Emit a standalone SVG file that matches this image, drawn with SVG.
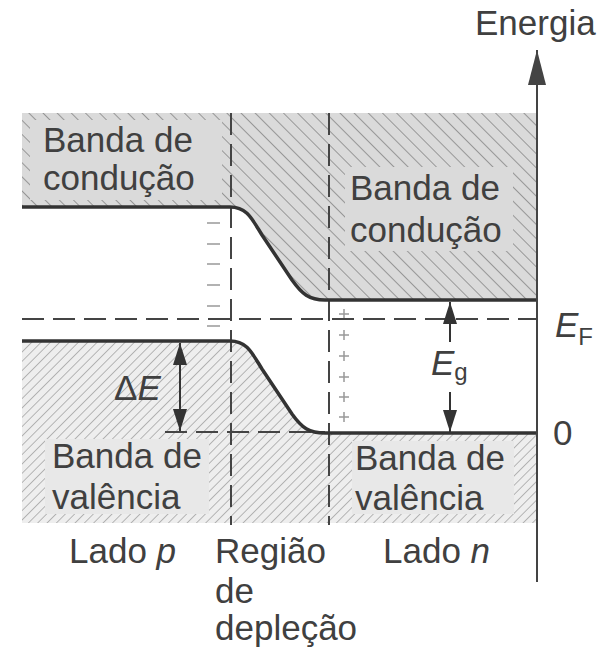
<svg xmlns="http://www.w3.org/2000/svg" width="609" height="656" viewBox="0 0 609 656">
<defs>
<style>
.t{font-family:"Liberation Sans",Arial,sans-serif;font-size:35px;fill:#404040}
.sub{font-size:24px}
.it{font-style:italic}
.band{fill:none;stroke:#333;stroke-width:3.5}
.dash{fill:none;stroke:#444;stroke-width:2;stroke-dasharray:22 9}
.arr{fill:none;stroke:#333;stroke-width:2}
.box1{fill:#dadada}
.box2{fill:#e8e8e8}
.mk{stroke:#999;stroke-width:1.5;fill:none}
</style>
<pattern id="hc" patternUnits="userSpaceOnUse" width="10" height="10" patternTransform="rotate(-45)">
<rect width="10" height="10" fill="#dadada"/>
<line x1="0" y1="0" x2="0" y2="10" stroke="#6a6a6a" stroke-width="1.2"/>
</pattern>
<pattern id="hv" patternUnits="userSpaceOnUse" width="6.6" height="6.6" patternTransform="rotate(45)">
<rect width="6.6" height="6.6" fill="#eeeeee"/>
<line x1="0" y1="0" x2="0" y2="6.6" stroke="#858585" stroke-width="1.1"/>
</pattern>
<marker id="ah" markerUnits="userSpaceOnUse" markerWidth="24" markerHeight="14" refX="22" refY="7" orient="auto-start-reverse">
<path d="M0,0 L22,7 L0,14 Z" fill="#333"/>
</marker>
<marker id="axh" markerUnits="userSpaceOnUse" markerWidth="36" markerHeight="20" refX="35" refY="9" orient="auto">
<path d="M0,0 L35,9 L0,18 Z" fill="#444"/>
</marker>
</defs>
<rect width="609" height="656" fill="#fff"/>

<g id="conduction-band">
<path d="M22,113 H537 V300 H325 C309,300 302,294 292,280 L262,235 C252,219 247,207 230,207 H22 Z" fill="url(#hc)"/>
<rect class="box1" x="30" y="120" width="192" height="80"/>
<rect class="box1" x="345" y="167" width="168" height="84"/>
<text class="t" x="43" y="152">Banda de</text>
<text class="t" x="43" y="190">condução</text>
<text class="t" x="350" y="200">Banda de</text>
<text class="t" x="350" y="242">condução</text>
</g>

<g id="valence-band">
<path d="M22,341 H230 C247,341 252,353 262,369 L292,414 C302,428 309,433 325,433 H537 V523 H22 Z" fill="url(#hv)"/>
<rect class="box2" x="45" y="439" width="164" height="75"/>
<rect class="box2" x="352" y="441" width="162" height="73"/>
<text class="t" x="52" y="468">Banda de</text>
<text class="t" x="52" y="509">valência</text>
<text class="t" x="355" y="470">Banda de</text>
<text class="t" x="355" y="510">valência</text>
</g>

<g id="depletion-charges">
<path class="mk" d="M207,223 H220 M207,244 H220 M207,264 H220 M207,285 H220 M207,306 H220 M207,326 H220"/>
<path class="mk" d="M339,314 H349 M344,309 V319 M339,335 H349 M344,330 V340 M339,356 H349 M344,351 V361 M339,377 H349 M344,372 V382 M339,397 H349 M344,392 V402 M339,417 H349 M344,412 V422"/>
</g>

<g id="guides">
<line class="dash" x1="231" y1="113" x2="231" y2="525"/>
<line class="dash" x1="329" y1="113" x2="329" y2="525"/>
<line class="dash" x1="22" y1="319" x2="537" y2="319" stroke="#555"/>
<line class="dash" x1="165" y1="432" x2="325" y2="432"/>
</g>

<g id="band-edges">
<path class="band" d="M22,207 H230 C247,207 252,219 262,235 L292,280 C302,294 309,300 325,300 H537"/>
<path class="band" d="M22,341 H230 C247,341 252,353 262,369 L292,414 C302,428 309,433 325,433 H537"/>
</g>

<g id="connectors">
<line class="arr" x1="180" y1="343" x2="180" y2="431" marker-start="url(#ah)" marker-end="url(#ah)"/>
<line class="arr" x1="450" y1="342" x2="450" y2="302" marker-end="url(#ah)"/>
<line class="arr" x1="450" y1="392" x2="450" y2="432" marker-end="url(#ah)"/>
<line x1="537" y1="582" x2="537" y2="50" stroke="#444" stroke-width="2" marker-end="url(#axh)"/>
</g>

<g id="labels">
<text class="t" x="475" y="35">Energia</text>
<text class="t" x="555" y="337"><tspan class="it">E</tspan><tspan class="sub" dy="8">F</tspan></text>
<text class="t" x="553" y="445">0</text>
<text class="t" x="431" y="375"><tspan class="it">E</tspan><tspan class="sub" dy="5">g</tspan></text>
<text class="t" x="114" y="400">Δ<tspan class="it">E</tspan></text>
<text class="t" x="69" y="563">Lado <tspan class="it">p</tspan></text>
<text class="t" x="215" y="563">Região</text>
<text class="t" x="215" y="603">de</text>
<text class="t" x="215" y="640">depleção</text>
<text class="t" x="383" y="563">Lado <tspan class="it">n</tspan></text>
</g>
</svg>
